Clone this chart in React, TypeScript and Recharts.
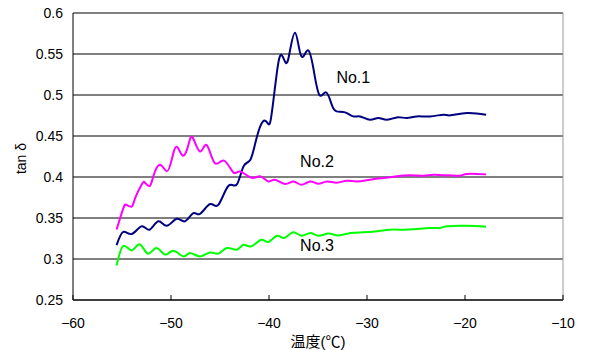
import React from 'react';
import {
  LineChart,
  Line,
  XAxis,
  YAxis,
  CartesianGrid,
  ReferenceLine,
  ReferenceDot,
} from 'recharts';

// ---- data ----
const tempNo1 = [
  -55.55, -54.87, -54.0, -52.99, -52.2, -51.3, -50.44, -49.42, -48.57, -47.72, -47.04, -46.0,
  -45.17, -44.15, -43.3, -42.6, -41.9, -41.3, -40.6, -40.07, -39.73, -39.2, -38.75, -38.26,
  -37.86, -37.35, -36.9, -36.5, -36.0, -35.48, -34.87, -34.18, -33.6, -33.1, -32.24, -31.4,
  -30.7, -29.7, -28.85, -28.0, -26.97, -25.95, -24.93, -23.57, -22.2, -21.5, -19.8, -17.85,
];
const tanNo1 = [
  0.317, 0.333, 0.3305, 0.34, 0.3357, 0.346, 0.3406, 0.349, 0.346, 0.356, 0.355, 0.367,
  0.366, 0.389, 0.3906, 0.413, 0.421, 0.446, 0.468, 0.4646, 0.477, 0.527, 0.549, 0.539,
  0.554, 0.576, 0.5553, 0.547, 0.5544, 0.533, 0.5003, 0.5032, 0.4882, 0.48, 0.4788, 0.4739,
  0.4739, 0.4698, 0.472, 0.4698, 0.4727, 0.472, 0.4739, 0.4739, 0.476, 0.4752, 0.478, 0.476,
];

const tempNo2 = [
  -55.55, -54.86, -54.52, -54.0, -53.67, -52.99, -52.65, -52.17, -51.8, -51.13, -50.44, -49.93,
  -49.42, -48.8, -48.23, -47.79, -47.04, -46.36, -45.54, -44.6, -43.64, -42.96, -41.77, -40.9,
  -40.07, -39.4, -38.37, -37.5, -36.7, -35.8, -34.97, -34.1, -33.1, -32.07, -31.05, -29.7,
  -28.3, -26.97, -25.6, -24.25, -23.2, -21.9, -20.5, -19.8, -17.85,
];
const tanNo2 = [
  0.336, 0.362, 0.366, 0.364, 0.374, 0.391, 0.393, 0.389, 0.401, 0.415, 0.407, 0.421,
  0.437, 0.426, 0.439, 0.448, 0.431, 0.439, 0.417, 0.42, 0.4056, 0.4068, 0.399, 0.401,
  0.3946, 0.3967, 0.3915, 0.3946, 0.3906, 0.3946, 0.3918, 0.3946, 0.393, 0.3955, 0.3946, 0.3967,
  0.3988, 0.4008, 0.402, 0.4016, 0.4028, 0.402, 0.4016, 0.4037, 0.4032,
];

const tempNo3 = [
  -55.55, -54.87, -54.0, -53.2, -52.35, -51.5, -50.6, -49.77, -48.75, -48.06, -47.04, -46.0,
  -45.17, -44.3, -43.3, -42.6, -41.8, -40.8, -40.07, -39.2, -38.45, -37.55, -36.7, -35.8,
  -34.97, -33.95, -32.93, -31.7, -30.4, -29.0, -27.65, -26.3, -24.93, -23.57, -22.55, -21.87,
  -20.0, -17.85,
];
const tanNo3 = [
  0.292, 0.316, 0.3105, 0.318, 0.3065, 0.3134, 0.3053, 0.31, 0.3032, 0.3073, 0.3032, 0.308,
  0.3065, 0.3134, 0.3114, 0.3174, 0.3154, 0.3235, 0.3207, 0.3284, 0.3256, 0.3325, 0.3284, 0.3317,
  0.3284, 0.331, 0.3288, 0.3317, 0.3325, 0.3337, 0.3357, 0.3357, 0.3366, 0.3378, 0.3378, 0.3398,
  0.3406, 0.3394,
];

const xTicks = [-60, -50, -40, -30, -20, -10];
const yTicks = [0.25, 0.3, 0.35, 0.4, 0.45, 0.5, 0.55, 0.6];

const seriesNames = ['No.1', 'No.2', 'No.3'];
const seriesColors = ['#000080', '#FF00FF', '#00FF00'];
// annotation anchors (temperature, tan δ)
const labelTemps = [-31.4, -35.1, -35.1];
const labelValues = [0.521, 0.419, 0.3162];

const xTitle = '温度(℃)';
const yTitle = 'tan δ';

const toRows = (ts: number[], vs: number[]) => ts.map((t, i) => ({ t, v: vs[i] }));
const seriesData = [toRows(tempNo1, tanNo1), toRows(tempNo2, tanNo2), toRows(tempNo3, tanNo3)];

const FONT = '"Liberation Sans", Arial, "Noto Sans CJK JP", sans-serif';

const fmtX = (v: number) => String(v).replace('-', '\u2212');

const XTick = (props: any) => {
  const { x, y, payload } = props;
  return (
    <g>
      <line x1={x} x2={x} y1={y - 23} y2={y - 28} stroke="#000" strokeWidth={1} />
      <text x={x} y={y} textAnchor="middle" dominantBaseline="central" fontSize={14} fill="#000" fontFamily={FONT}>
        {fmtX(payload.value)}
      </text>
    </g>
  );
};

const YTitle = (p: any) => {
  const vb = p.viewBox || { x: 0, y: 13, width: 73, height: 287 };
  const cx = vb.x + 21;
  const cy = vb.y + vb.height / 2 + 2;
  return (
    <text
      transform={`translate(${cx},${cy}) rotate(-90)`}
      textAnchor="middle"
      dominantBaseline="central"
      fontSize={14}
      fill="#000"
      fontFamily={FONT}
    >
      {yTitle}
    </text>
  );
};

export default function App() {
  return (
    <div style={{ position: 'absolute', left: 0, top: 0, fontFamily: FONT, background: '#fff' }}>
      <LineChart width={590} height={350} margin={{ top: 13, right: 27, bottom: 0, left: 0 }}>
        <CartesianGrid vertical={false} stroke="#000" strokeWidth={1} />
        <XAxis
          dataKey="t"
          type="number"
          domain={[-60, -10]}
          ticks={xTicks}
          allowDataOverflow
          height={50}
          axisLine={{ stroke: '#000' }}
          tickLine={false}
          tickSize={0}
          tickMargin={23}
          tick={<XTick />}
          interval={0}
          label={{ value: xTitle, position: 'insideBottom', offset: 3, fontSize: 15, fill: '#000' }}
        />
        <YAxis
          type="number"
          domain={[0.25, 0.6]}
          ticks={yTicks}
          width={73}
          axisLine={{ stroke: '#000' }}
          tickLine={false}
          tickSize={0}
          tickMargin={10}
          interval={0}
          tick={{ fill: '#000', fontSize: 14 }}
          label={{ content: (p: any) => <YTitle {...p} /> }}
        />
        <ReferenceLine x={-10} stroke="#999" strokeWidth={1} />
        {seriesData.map((d, i) => (
          <Line
            key={seriesNames[i]}
            data={d}
            dataKey="v"
            type="natural"
            stroke={seriesColors[i]}
            strokeWidth={2}
            dot={false}
            isAnimationActive={false}
          />
        ))}
        {seriesNames.map((n, i) => (
          <ReferenceDot
            key={n}
            x={labelTemps[i]}
            y={labelValues[i]}
            r={0}
            fill="none"
            stroke="none"
            ifOverflow="visible"
            label={{ value: n, position: 'center', fontSize: 16, fill: '#000' }}
          />
        ))}
      </LineChart>
    </div>
  );
}
